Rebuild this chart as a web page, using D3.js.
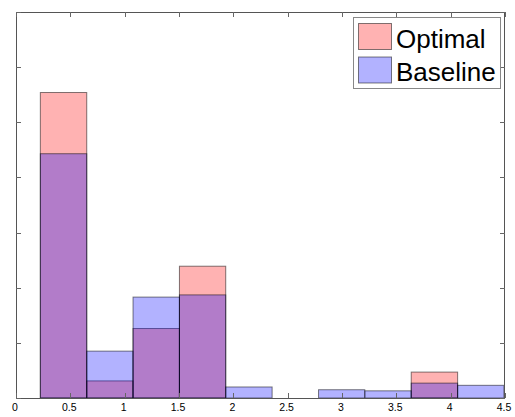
<!DOCTYPE html>
<html>
<head>
<meta charset="utf-8">
<script src="https://cdn.jsdelivr.net/npm/d3@7"></script>
<style>
  html, body { margin: 0; padding: 0; background: #fff; }
  svg { display: block; }
  text { font-family: "Liberation Sans", Arial, Helvetica, sans-serif; }
</style>
</head>
<body>
<svg id="chart" width="515" height="417"></svg>
<script>
// Data
const binEdges = [0.224, 0.651, 1.077, 1.504, 1.930, 2.357, 2.784, 3.210, 3.637, 4.064, 4.490];
const optimalValues  = [5.54, 0.31, 1.26, 2.39, 0, 0, 0, 0, 0.47, 0];
const baselineValues = [4.43, 0.85, 1.83, 1.87, 0.20, 0, 0.15, 0.13, 0.27, 0.23];
const xTickValues = [0, 0.5, 1, 1.5, 2, 2.5, 3, 3.5, 4, 4.5];
const xTickLabels = ["0", "0.5", "1", "1.5", "2", "2.5", "3", "3.5", "4", "4.5"];
const yTickValues = [0, 1, 2, 3, 4, 5, 6, 7];
const seriesNames = ["Optimal", "Baseline"];

const svg = d3.select("#chart");
const plotLeft = 16, plotRight = 505, plotTop = 12, plotBottom = 398;

const x = d3.scaleLinear().domain([0, 4.5]).range([plotLeft, plotRight]);
const y = d3.scaleLinear().domain([0, 7]).range([plotBottom, plotTop]);

const series = [
  { name: seriesNames[0], values: optimalValues, fill: "rgb(255,0,0)" },
  { name: seriesNames[1], values: baselineValues, fill: "rgb(0,0,255)" }
];

// bars
series.forEach(s => {
  svg.append("g").selectAll("rect")
    .data(s.values.map((v, i) => ({ v, x0: binEdges[i], x1: binEdges[i + 1] })).filter(d => d.v > 0))
    .join("rect")
    .attr("x", d => x(d.x0))
    .attr("width", d => x(d.x1) - x(d.x0))
    .attr("y", d => y(d.v))
    .attr("height", d => y(0) - y(d.v))
    .attr("fill", s.fill)
    .attr("fill-opacity", 0.3)
    .attr("stroke", "#000")
    .attr("stroke-opacity", 0.5)
    .attr("stroke-width", 1);
});

// axes box
svg.append("rect")
  .attr("x", plotLeft + 0.5).attr("y", plotTop + 0.5)
  .attr("width", plotRight - plotLeft - 1).attr("height", plotBottom - plotTop)
  .attr("fill", "none").attr("stroke", "#555").attr("stroke-width", 1);

// ticks (inward)
const tickLen = 5;
const tg = svg.append("g").attr("stroke", "#666").attr("stroke-width", 1);
xTickValues.forEach(v => {
  const px = Math.round(x(v)) + 0.5;
  tg.append("line").attr("x1", px).attr("x2", px).attr("y1", plotBottom).attr("y2", plotBottom - tickLen);
  tg.append("line").attr("x1", px).attr("x2", px).attr("y1", plotTop).attr("y2", plotTop + tickLen);
});
yTickValues.forEach(v => {
  const py = Math.round(y(v)) + 0.5;
  tg.append("line").attr("x1", plotLeft).attr("x2", plotLeft + tickLen).attr("y1", py).attr("y2", py);
  tg.append("line").attr("x1", plotRight).attr("x2", plotRight - tickLen).attr("y1", py).attr("y2", py);
});

// x tick labels
svg.append("g").selectAll("text")
  .data(xTickValues)
  .join("text")
  .attr("x", d => x(d) - 1)
  .attr("y", 411)
  .attr("text-anchor", "middle")
  .attr("font-size", 10.5)
  .attr("fill", "#000")
  .text((d, i) => xTickLabels[i]);

// legend
const lg = svg.append("g");
lg.append("rect")
  .attr("x", 353.5).attr("y", 17.5).attr("width", 147).attr("height", 71)
  .attr("fill", "#fff").attr("stroke", "#888").attr("stroke-width", 1);
series.forEach((s, i) => {
  const yy = 23 + i * 33.5;
  lg.append("rect")
    .attr("x", 358.5).attr("y", yy + 0.5).attr("width", 33).attr("height", 26)
    .attr("fill", s.fill).attr("fill-opacity", 0.3)
    .attr("stroke", "#000").attr("stroke-opacity", 0.5);
  lg.append("text")
    .attr("x", 396).attr("y", yy + 24.5)
    .attr("font-size", 26)
    .attr("fill", "#000")
    .text(s.name);
});
</script>
</body>
</html>
